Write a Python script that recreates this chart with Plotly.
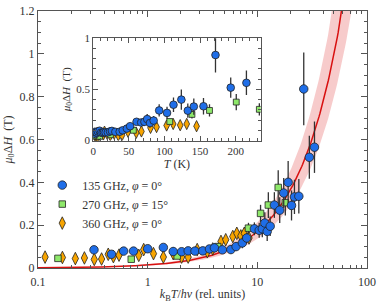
import numpy as np
import plotly.graph_objects as go

# ---------------- data ----------------
KB_OVER_H = 20.837  # GHz per K

# 135 GHz, phi = 0 deg  (x in rel. units, y in T, err in T)
x135 = [0.324, 0.468, 0.604, 0.743, 1.0, 1.39, 1.71, 2.04, 2.34, 2.7, 3.18, 3.66, 4.06, 4.8,
        5.74, 6.4, 7.3, 8.0, 9.4, 10.4, 11.1, 11.7, 12.3, 13.1, 14.3, 16.0, 17.4, 19.1, 20.5,
        21.8, 23.9, 26.5, 29.8, 33.2]
y135 = [0.085, 0.064, 0.079, 0.079, 0.090, 0.096, 0.077, 0.076, 0.080, 0.079, 0.080, 0.089,
        0.094, 0.085, 0.086, 0.100, 0.117, 0.140, 0.183, 0.176, 0.183, 0.210, 0.171, 0.195,
        0.294, 0.270, 0.350, 0.400, 0.292, 0.332, 0.335, 0.836, 0.517, 0.564]
e135 = [0.01, 0.01, 0.01, 0.01, 0.01, 0.01, 0.01, 0.01, 0.01, 0.01, 0.01, 0.012, 0.012, 0.015,
        0.02, 0.02, 0.025, 0.025, 0.03, 0.035, 0.04, 0.05, 0.045, 0.045, 0.06, 0.06, 0.07,
        0.10, 0.07, 0.08, 0.08, 0.17, 0.10, 0.12]

# 270 GHz, phi = 15 deg
x270 = [0.152, 0.708, 1.86, 4.35, 8.3, 10.7, 12.6, 15.5, 18.0]
y270 = [0.045, 0.041, 0.056, 0.100, 0.186, 0.255, 0.294, 0.376, 0.305]
e270 = [0.01, 0.01, 0.01, 0.015, 0.025, 0.04, 0.06, 0.08, 0.06]

# 360 GHz, phi = 0 deg
x360 = [0.116, 0.167, 0.219, 0.265, 0.326, 0.38, 0.437, 0.487, 0.548, 0.83, 0.92, 1.13, 1.39,
        1.71, 2.04, 2.34, 2.83, 3.5, 3.92, 4.66, 5.15, 5.97, 6.5, 7.07, 7.6, 8.4]
y360 = [0.051, 0.049, 0.044, 0.047, 0.040, 0.042, 0.064, 0.053, 0.060, 0.059, 0.086, 0.067,
        0.051, 0.067, 0.051, 0.051, 0.086, 0.076, 0.089, 0.124, 0.132, 0.147, 0.162, 0.150,
        0.162, 0.140]
e360 = [0.008] * 17 + [0.012, 0.012, 0.02, 0.02, 0.02, 0.02, 0.02, 0.02, 0.02]

series = [
    dict(name="135 GHz, <i>φ</i> = 0°", nu=135, x=x135, y=y135, e=e135,
         symbol="circle", size=8.5, color="#1f6ee8"),
    dict(name="270 GHz, <i>φ</i> = 15°", nu=270, x=x270, y=y270, e=e270,
         symbol="square", size=6.5, color="#8ee86a"),
    dict(name="360 GHz, <i>φ</i> = 0°", nu=360, x=x360, y=y360, e=e360,
         symbol="diamond-tall", size=9, color="#f7a400"),
]

# model curve (fit): muDH = A * x^n, with uncertainty band
fit_A = 0.0135
fit_n = 1.1
band_lo, band_hi = 0.80, 1.25

main_xticks = [0.1, 1, 10, 100]
main_xticklabels = ["0.1", "1", "10", "100"]
main_xminor = [m * d for d in (0.1, 1, 10) for m in range(2, 10)]
main_yticks = [0, 0.2, 0.4, 0.6, 0.8, 1.0, 1.2]
main_yticklabels = ["0", "0.2", "0.4", "0.6", "0.8", "1", "1.2"]
inset_xticks = [0, 50, 100, 150, 200]
inset_yticks = [0, 0.5, 1]
inset_yticklabels = ["0", "0.5", "1"]

# ---------------- figure ----------------
FONT = "Liberation Serif"
TXT = "#333333"
AX = "#555555"

fig = go.Figure()

xf = np.logspace(-1, 2, 400)
yf = fit_A * xf ** fit_n
fig.add_trace(go.Scatter(x=np.concatenate([xf, xf[::-1]]),
                         y=np.concatenate([yf * band_hi, (yf * band_lo)[::-1]]),
                         fill="toself", fillcolor="rgba(238,140,140,0.45)",
                         line=dict(width=0), hoverinfo="skip", showlegend=False))
fig.add_trace(go.Scatter(x=xf, y=yf, mode="lines", line=dict(color="#d81010", width=1.5),
                         showlegend=False))

for s in series[::-1]:
    fig.add_trace(go.Scatter(
        x=s["x"], y=s["y"], mode="markers", name=s["name"],
        error_y=dict(type="data", array=s["e"], color="#333333", thickness=1.3, width=0),
        marker=dict(symbol=s["symbol"], size=s["size"], color=s["color"],
                    line=dict(color="#222222", width=0.8)),
        legendrank={135: 1, 270: 2, 360: 3}[s["nu"]]))

# inset: same data versus temperature
for s in series[::-1]:
    T = [xv * s["nu"] / KB_OVER_H for xv in s["x"]]
    fig.add_trace(go.Scatter(
        x=T, y=s["y"], mode="markers", showlegend=False, xaxis="x2", yaxis="y2",
        error_y=dict(type="data", array=s["e"], color="#333333", thickness=1.3, width=0),
        marker=dict(symbol=s["symbol"], size=s["size"] * 0.9, color=s["color"],
                    line=dict(color="#222222", width=0.8))))

axis_common = dict(showline=True, linecolor=AX, linewidth=1, mirror="ticks",
                   ticks="inside", tickcolor=AX, showgrid=False, zeroline=False,
                   tickfont=dict(family=FONT, size=12, color=TXT))

fig.update_layout(
    width=381, height=304,
    margin=dict(l=38, r=9, t=5, b=35),
    paper_bgcolor="white", plot_bgcolor="white",
    font=dict(family=FONT, size=12, color=TXT),
    xaxis=dict(type="log", range=[-1, 2], tickvals=main_xticks, ticktext=main_xticklabels,
               ticklen=6, ticklabelstandoff=3,
               minor=dict(ticks="inside", ticklen=3, tickcolor=AX, tickvals=main_xminor),
               title=dict(text="<i>k</i><sub>B</sub><i>T</i>/<i>hν</i> (rel. units)",
                          font=dict(family=FONT, size=12, color=TXT), standoff=1),
               **axis_common),
    yaxis=dict(range=[0, 1.2], tickvals=main_yticks, ticktext=main_yticklabels, ticklen=6,
               minor=dict(ticks="inside", ticklen=3, dtick=0.05, tickcolor=AX),
               title=dict(text="<i>μ</i><sub>0</sub>Δ<i>H</i>  (T)",
                          font=dict(family=FONT, size=12, color=TXT), standoff=4),
               **axis_common),
    xaxis2=dict(domain=[0.1677, 0.6766], anchor="y2", range=[0, 235], tickvals=inset_xticks,
                ticklen=5, minor=dict(ticks="inside", ticklen=2.5, dtick=10, tickcolor=AX),
                title=dict(text="<i>T</i> (K)", font=dict(family=FONT, size=12, color=TXT),
                           standoff=1),
                **{**axis_common, "tickfont": dict(family=FONT, size=11, color=TXT)}),
    yaxis2=dict(domain=[0.496, 0.894], anchor="x2", range=[0, 1], tickvals=inset_yticks,
                ticktext=inset_yticklabels, ticklen=5,
                minor=dict(ticks="inside", ticklen=2.5, dtick=0.1, tickcolor=AX),
                title=dict(text="<i>μ</i><sub>0</sub>Δ<i>H</i>  (T)",
                           font=dict(family=FONT, size=11, color=TXT), standoff=3),
                **{**axis_common, "tickfont": dict(family=FONT, size=11, color=TXT)}),
    legend=dict(x=0.013, y=0.379, xanchor="left", yanchor="top", bgcolor="rgba(0,0,0,0)",
                font=dict(family=FONT, size=12, color=TXT), itemwidth=30,
                tracegroupgap=0),
    showlegend=True,
)

fig.write_html("out.html", config={"displayModeBar": False},
               post_script="document.body.style.margin='0px';")
